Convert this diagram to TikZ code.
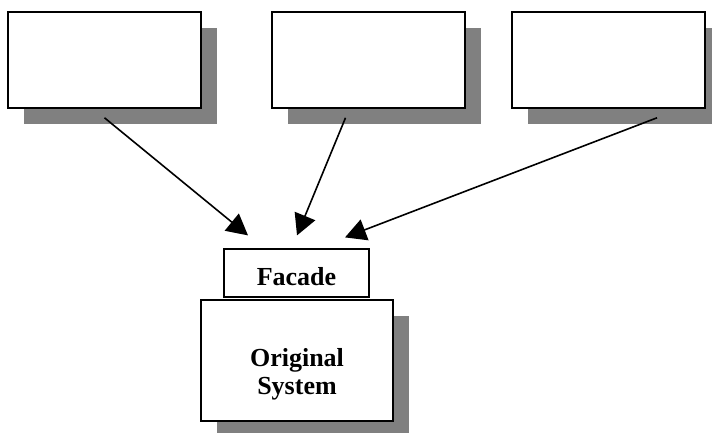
\documentclass[tikz,border=0pt]{standalone}
\usepackage{fontspec}
\setmainfont{Liberation Serif}
\usetikzlibrary{arrows.meta,shadows}

\begin{document}
\begin{tikzpicture}[x=1pt,y=-1pt,
                    client node/.style={rectangle,draw,fill=white,line width=1.6pt,
                      minimum width=193pt,minimum height=96pt,
                      general shadow={fill=gray,shadow xshift=16pt,shadow yshift=-16pt}},
                    facade node/.style={rectangle,draw,fill=white,line width=1.2pt,
                      minimum width=145pt,minimum height=48pt},
                    system node/.style={rectangle,draw,fill=white,line width=1.2pt,
                      minimum width=192pt,minimum height=121pt,
                      general shadow={fill=gray,shadow xshift=16pt,shadow yshift=-16pt}},
                    caption/.style={align=center,
                      font=\fontsize{26}{28}\selectfont\bfseries}]

  \useasboundingbox (0,0) rectangle (712,433);

  \node[client node] (c1) at (104.5,60) {};
  \node[client node] (c2) at (368.5,60) {};
  \node[client node] (c3) at (608.5,60) {};

  \node[system node,label={[caption,yshift=-14pt]center:Original\\System}] (orig) at (297,360.5) {};
  \node[facade node,label={[caption,yshift=-4pt]center:Facade}] (facade) at (296.5,273) {};

  \coordinate (in1) at ([xshift=-48.5pt,yshift=13pt]facade.north);
  \coordinate (in2) at ([xshift=0.5pt,yshift=13pt]facade.north);
  \coordinate (in3) at ([xshift=48.5pt,yshift=11pt]facade.north);

  \path[-{Triangle[length=21pt,width=22pt]},line width=1.6pt]
    ([yshift=-9pt]c1.south) edge (in1)
    ([xshift=-23pt,yshift=-9pt]c2.south) edge (in2)
    ([xshift=48.5pt,yshift=-9pt]c3.south) edge (in3);
\end{tikzpicture}
\end{document}
